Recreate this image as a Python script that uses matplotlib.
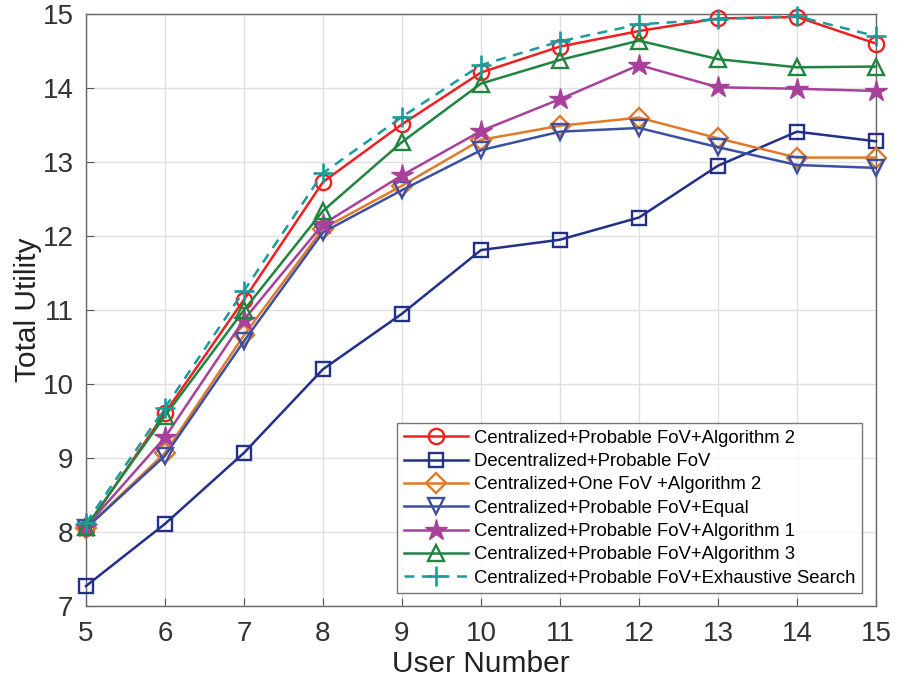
import matplotlib
matplotlib.use("Agg")
import matplotlib.pyplot as plt

plt.rcParams["font.family"] = ["Liberation Sans", "DejaVu Sans"]

users = [5, 6, 7, 8, 9, 10, 11, 12, 13, 14, 15]

alg2 = [8.05, 9.61, 11.14, 12.73, 13.51, 14.21, 14.56, 14.77, 14.94, 14.96, 14.60]
decentral = [7.27, 8.11, 9.07, 10.20, 10.95, 11.81, 11.95, 12.25, 12.95, 13.41, 13.28]
one_fov = [8.05, 9.07, 10.66, 12.10, 12.68, 13.30, 13.49, 13.60, 13.32, 13.06, 13.06]
equal = [8.05, 9.03, 10.58, 12.05, 12.62, 13.16, 13.41, 13.46, 13.20, 12.96, 12.92]
alg1 = [8.07, 9.28, 10.87, 12.16, 12.82, 13.42, 13.85, 14.31, 14.01, 13.99, 13.96]
alg3 = [8.07, 9.57, 11.00, 12.34, 13.27, 14.06, 14.38, 14.64, 14.39, 14.28, 14.29]
exhaustive = [8.12, 9.68, 11.26, 12.85, 13.61, 14.31, 14.63, 14.86, 14.93, 14.97, 14.70]

fig = plt.figure(figsize=(9.06, 6.8), dpi=100)
ax = fig.add_axes([0.0949, 0.1088, 0.872, 0.8706])

lw = 1.8
ms = 11
mew = 1.7
common = dict(lw=lw, clip_on=False, zorder=3)
ax.plot(users, alg2, color="#f02020", marker="o", ms=ms, mfc="none", mew=mew,
        label="Centralized+Probable FoV+Algorithm 2", **common)
ax.plot(users, decentral, color="#22308a", marker="s", ms=ms - 1, mfc="none", mew=mew,
        label="Decentralized+Probable FoV", **common)
ax.plot(users, one_fov, color="#e07a2a", marker="D", ms=ms - 1, mfc="none", mew=mew,
        label="Centralized+One FoV +Algorithm 2", **common)
ax.plot(users, equal, color="#3b4fa3", marker="v", ms=ms + 1, mfc="none", mew=mew,
        label="Centralized+Probable FoV+Equal", **common)
ax.plot(users, alg1, color="#a8409c", marker="*", ms=ms + 5, mew=1.0,
        label="Centralized+Probable FoV+Algorithm 1", **common)
ax.plot(users, alg3, color="#1f8540", marker="^", ms=ms + 1, mfc="none", mew=mew,
        label="Centralized+Probable FoV+Algorithm 3", **common)
ax.plot(users, exhaustive, color="#1a9c9c", marker="+", ms=ms + 4, mew=1.9,
        ls=(0, (4, 3)), label="Centralized+Probable FoV+Exhaustive Search", **common)

ax.set_xlim(5, 15)
ax.set_ylim(7, 15)
ax.set_xticks(range(5, 16))
ax.set_yticks(range(7, 16))
ax.tick_params(labelsize=20, direction="in", length=6, colors="#555555", labelcolor="#333333")
ax.tick_params(axis="x", pad=11)
ax.tick_params(axis="y", pad=9)
ax.grid(True, color="#e0e0e0", lw=1.0)
for s in ax.spines.values():
    s.set_color("#666666")
    s.set_linewidth(1.0)

ax.set_xlabel("User Number", fontsize=21.5, color="#222222", labelpad=2)
ax.set_ylabel("Total Utility", fontsize=21.5, color="#222222", labelpad=0)

leg = ax.legend(loc="lower right", bbox_to_anchor=(0.982, 0.022), fontsize=13.3,
                frameon=True, fancybox=False, handlelength=3.5, labelspacing=0.34,
                borderpad=0.35, handletextpad=0.3, borderaxespad=0)
leg.set_zorder(5)
leg.get_frame().set_edgecolor("#555555")
leg.get_frame().set_linewidth(1.0)

fig.savefig("out.png", dpi=100)
